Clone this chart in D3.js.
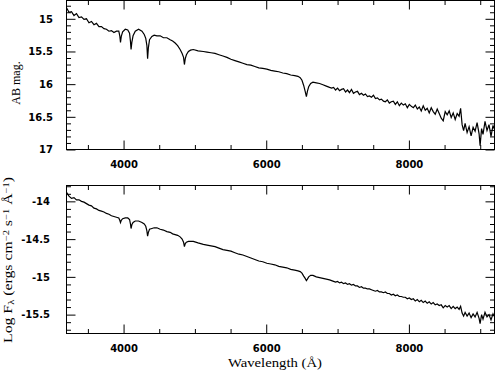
<!DOCTYPE html>
<html><head><meta charset="utf-8">
<script src="https://cdn.jsdelivr.net/npm/d3@7"></script>
<style>body{margin:0;background:#fff}svg{display:block}</style>
</head><body>
<svg id="c" width="496" height="374"></svg>
<script>
// Wavelength grid (Angstrom)
const wavelength = [
3200,3235,3270,3305,3340,3375,3410,3445,3480,3515,3550,3585,3620,3655,3690,3725,3760,3795,3830,3865,3900,
3933,3947,3957,3968,3987,4024,4059,4084,4097,4105,4116,4133,4164,4210,4258,4290,4311,4327,4337,4348,4364,4397,4429,4467,4513,4559,4607,4653,4688,4723,4758,4793,4821,4841,4853,4865,4881,4909,4939,4978,5044,5118,
5170,5226,5282,5337,5393,5449,5505,5561,5617,5673,5729,5785,5840,5896,5952,6008,6064,6120,6176,6232,6287,6343,6399,6445,6476,6501,6525,6546,6563,6577,6595,6623,6655,6702,6748,6795,6842,6888,
6916,6944,6972,7000,7028,7056,7084,7112,7140,7167,7195,7223,7251,7279,7307,7335,7363,7391,7419,7447,7475,7503,7531,7559,7587,7615,7643,7670,7698,7726,7754,7782,7810,7838,7866,7894,7922,7950,7978,8006,8034,8062,8090,8118,8146,8173,8201,8229,8257,8285,8313,8341,8369,8397,8425,8453,8481,8509,8537,8565,8593,8621,8649,8677,8704,
8725,8746,8767,8788,8816,8844,8872,8900,8928,8956,8984,8998,9019,9039,9067,9095,9123,9151,9179,9193
];
// Top panel: AB magnitude
const abMag = [
14.83,14.90,14.89,14.95,14.92,14.98,14.97,15.01,15.00,15.06,15.04,15.09,15.07,15.12,15.12,15.15,15.16,15.19,15.18,15.21,15.19,
15.19,15.26,15.36,15.27,15.20,15.16,15.17,15.22,15.35,15.47,15.36,15.26,15.19,15.16,15.19,15.24,15.30,15.41,15.61,15.44,15.32,15.27,15.25,15.26,15.26,15.29,15.29,15.32,15.34,15.37,15.41,15.47,15.53,15.59,15.70,15.61,15.55,15.50,15.48,15.47,15.49,15.50,
15.51,15.52,15.53,15.55,15.57,15.59,15.62,15.64,15.66,15.68,15.70,15.71,15.73,15.75,15.76,15.77,15.79,15.80,15.81,15.83,15.84,15.86,15.87,15.88,15.90,15.94,16.02,16.11,16.19,16.11,16.04,15.99,15.97,15.98,15.99,16.01,16.03,16.05,
16.06,16.05,16.09,16.06,16.10,16.08,16.07,16.12,16.09,16.13,16.08,16.14,16.12,16.11,16.16,16.14,16.17,16.15,16.19,16.18,16.20,16.17,16.22,16.21,16.24,16.23,16.26,16.27,16.24,16.29,16.27,16.26,16.31,16.27,16.33,16.29,16.32,16.30,16.36,16.31,16.34,16.36,16.32,16.38,16.35,16.41,16.33,16.40,16.37,16.44,16.36,16.42,16.46,16.38,16.45,16.52,16.56,16.42,16.47,16.41,16.51,16.44,16.54,16.45,16.49,
16.37,16.62,16.71,16.60,16.74,16.65,16.79,16.66,16.72,16.59,16.76,16.94,16.68,16.77,16.57,16.71,16.62,16.80,16.63,16.68
];
// Bottom panel: log F_lambda
const logFlux = [
-13.88,-13.93,-13.96,-13.95,-13.98,-13.98,-14.00,-14.01,-14.03,-14.05,-14.06,-14.09,-14.10,-14.12,-14.13,-14.14,-14.16,-14.17,-14.19,-14.20,-14.21,
-14.22,-14.25,-14.28,-14.25,-14.23,-14.22,-14.22,-14.24,-14.30,-14.36,-14.31,-14.28,-14.26,-14.26,-14.28,-14.30,-14.33,-14.39,-14.46,-14.41,-14.37,-14.36,-14.35,-14.35,-14.37,-14.38,-14.40,-14.41,-14.43,-14.44,-14.45,-14.47,-14.50,-14.54,-14.60,-14.56,-14.54,-14.53,-14.53,-14.53,-14.55,-14.57,
-14.58,-14.59,-14.60,-14.62,-14.64,-14.65,-14.66,-14.68,-14.70,-14.71,-14.73,-14.75,-14.77,-14.79,-14.80,-14.82,-14.83,-14.84,-14.86,-14.87,-14.88,-14.90,-14.91,-14.92,-14.93,-14.95,-14.99,-15.02,-15.05,-15.03,-15.00,-14.98,-14.98,-15.00,-15.01,-15.02,-15.03,-15.04,
-15.05,-15.06,-15.07,-15.06,-15.08,-15.07,-15.09,-15.08,-15.10,-15.09,-15.11,-15.10,-15.12,-15.12,-15.14,-15.13,-15.15,-15.15,-15.16,-15.16,-15.17,-15.18,-15.19,-15.18,-15.20,-15.20,-15.21,-15.20,-15.22,-15.22,-15.24,-15.23,-15.25,-15.24,-15.26,-15.26,-15.27,-15.27,-15.29,-15.28,-15.30,-15.29,-15.32,-15.30,-15.33,-15.31,-15.34,-15.32,-15.35,-15.33,-15.36,-15.34,-15.37,-15.36,-15.38,-15.37,-15.41,-15.38,-15.40,-15.38,-15.42,-15.39,-15.42,-15.40,-15.43,
-15.39,-15.48,-15.52,-15.47,-15.52,-15.48,-15.54,-15.49,-15.53,-15.47,-15.55,-15.62,-15.50,-15.56,-15.47,-15.53,-15.50,-15.57,-15.49,-15.52
];
const xMajorTicks = [4000, 6000, 8000];
const xMinorTicks = [3500,4500,5000,5500,6500,7000,7500,8500,9000];
const magMajorTicks = [15, 15.5, 16, 16.5, 17];
const fluxMajorTicks = [-14, -14.5, -15, -15.5];
const xLabel = "Wavelength (Å)";
const magLabel = "AB mag.";

const svg = d3.select("#c");
const L = 66.5, R = 494.5;
const x = d3.scaleLinear().domain([3200, 9200]).range([L, R]);
const panels = [
  {vals: abMag, y: d3.scaleLinear().domain([14.72, 17]).range([0.5, 149.5]),
   major: magMajorTicks, labelPad: 13.5},
  {vals: logFlux, y: d3.scaleLinear().domain([-13.79, -15.75]).range([185.5, 333.5]),
   major: fluxMajorTicks, labelPad: 16.5}
];
const fmt = d => String(d);
const tickFont = "bold 10px 'DejaVu Sans', sans-serif";

panels.forEach((p, i) => {
  const [y0, y1] = p.y.range();
  const dom = p.y.domain();
  const lo = Math.min(...dom), hi = Math.max(...dom);
  const minor = d3.range(Math.ceil(lo*10-1e-6), Math.floor(hi*10+1e-6)+1).map(v => v/10)
      .filter(v => !p.major.some(m => Math.abs(m - v) < 1e-6));
  const g = svg.append("g");
  g.append("clipPath").attr("id", "clip"+i).append("rect")
    .attr("x", L).attr("y", y0).attr("width", R-L).attr("height", y1-y0);
  const n = Math.min(wavelength.length, p.vals.length);
  const data = d3.range(n).map(k => ({w: wavelength[k], v: p.vals[k]}));
  g.append("path").datum(data)
    .attr("clip-path", `url(#clip${i})`)
    .attr("fill", "none").attr("stroke", "#000").attr("stroke-width", 1.2)
    .attr("d", d3.line().x(d => x(d.w)).y(d => p.y(d.v)));

  const axes = [
    {a: d3.axisBottom(x), t: `translate(0,${y1})`, maj: xMajorTicks, min: xMinorTicks, labels: true, pad: 11},
    {a: d3.axisTop(x), t: `translate(0,${y0})`, maj: xMajorTicks, min: xMinorTicks, labels: false},
    {a: d3.axisLeft(p.y), t: `translate(${L},0)`, maj: p.major, min: minor, labels: true, pad: p.labelPad},
    {a: d3.axisRight(p.y), t: `translate(${R},0)`, maj: p.major, min: minor, labels: false}
  ];
  axes.forEach(ax => {
    const gm = g.append("g").attr("transform", ax.t)
      .call(ax.a.tickValues(ax.maj).tickSize(-9).tickPadding(ax.pad || 3).tickFormat(ax.labels ? fmt : () => ""));
    gm.select(".domain").remove();
    gm.selectAll("line").attr("stroke", "#000");
    gm.selectAll("text").style("font", tickFont).attr("fill", "#000");
    const gn = g.append("g").attr("transform", ax.t)
      .call(ax.a.tickValues(ax.min).tickSize(-4.5).tickFormat(() => ""));
    gn.select(".domain").remove();
    gn.selectAll("line").attr("stroke", "#000");
  });
  g.append("rect").attr("x", L).attr("y", y0).attr("width", R-L).attr("height", y1-y0)
    .attr("fill", "none").attr("stroke", "#000").attr("stroke-width", 1);
});

const serif = "'Liberation Serif', 'DejaVu Serif', serif";
svg.append("text").attr("transform", "translate(20,83) rotate(-90)")
  .attr("text-anchor", "middle").style("font-family", serif).style("font-size", "12px")
  .text(magLabel);

svg.append("text").attr("x", 275).attr("y", 367)
  .attr("text-anchor", "middle").style("font-family", serif).style("font-size", "12px")
  .attr("textLength", 94).attr("lengthAdjust", "spacingAndGlyphs").text(xLabel);

const fl = svg.append("text").attr("transform", "translate(12,260) rotate(-90)")
  .attr("text-anchor", "middle").style("font-family", serif).style("font-size", "12px");
const parts = [["Log F",0],["λ",-1],[" (ergs cm",0],["−2",1],[" s",0],["−1",1],[" Å",0],["−1",1],[")",0]];
parts.forEach(([t, s]) => {
  const ts = fl.append("tspan").text(t);
  if (s !== 0) ts.style("font-size", "8px").attr("baseline-shift", s > 0 ? "40%" : "-25%");
});
fl.attr("textLength", 166).attr("lengthAdjust", "spacingAndGlyphs");
</script>
</body></html>
